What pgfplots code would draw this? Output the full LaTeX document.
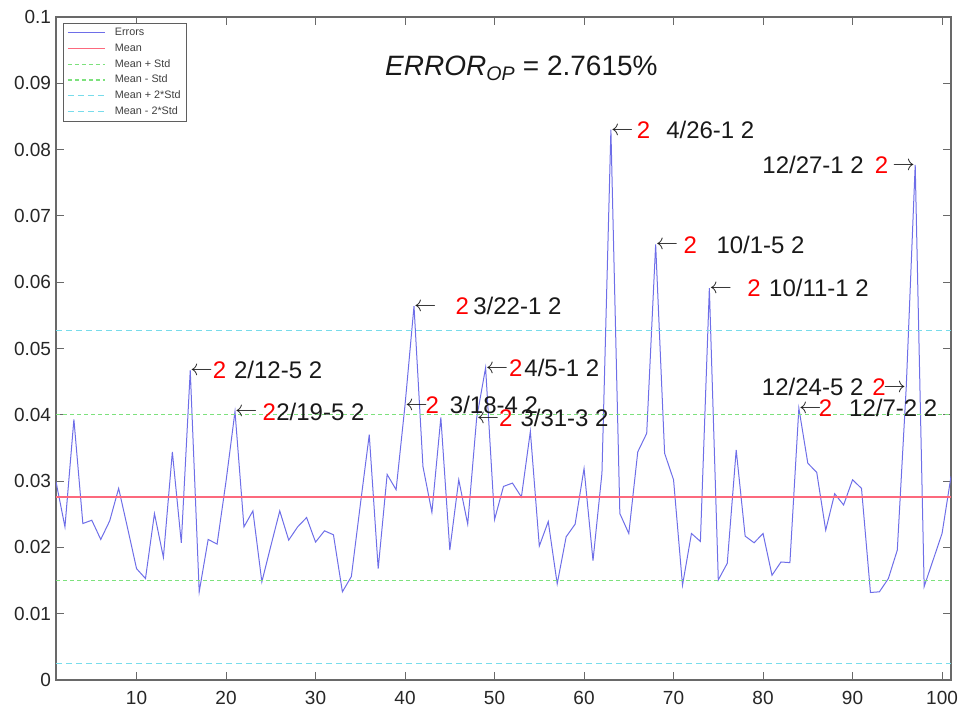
\documentclass[border=0pt]{standalone}
\usepackage{fontspec}
\setmainfont{Liberation Sans}
\newfontfamily\tickfont{Liberation Sans}
\usepackage{graphicx}
\usepackage{pgfplots}
\usepackage{pgfplotstable}
\pgfplotsset{compat=1.18}
\definecolor{errblue}{RGB}{110,110,232}
\definecolor{meanred}{RGB}{252,105,125}
\definecolor{stdgreen}{RGB}{125,225,125}
\definecolor{stdcyan}{RGB}{120,220,235}
\definecolor{framegray}{RGB}{105,105,105}
\definecolor{legendgray}{RGB}{95,95,95}
\newcommand{\la}{\raisebox{3.2bp}{\scalebox{0.9}{$\leftarrow$}}}
\newcommand{\ra}{\raisebox{3.2bp}{\scalebox{0.9}{$\rightarrow$}}}
\newcommand{\rt}[1]{\textcolor{red}{#1}}
\tikzset{lab/.style={font=\fontsize{24bp}{28bp}\selectfont, inner sep=0pt, yshift=-8.6bp, text=black!90}}
\pgfplotstableread{
x y
1 0.0299
2 0.0231
3 0.0393
4 0.0236
5 0.0241
6 0.0212
7 0.0240
8 0.0289
9 0.0229
10 0.0168
11 0.0153
12 0.0251
13 0.0185
14 0.0344
15 0.0207
16 0.0467
17 0.0133
18 0.0212
19 0.0205
20 0.0300
21 0.0405
22 0.0231
23 0.0255
24 0.0148
25 0.0202
26 0.0255
27 0.0211
28 0.0231
29 0.0245
30 0.0208
31 0.0225
32 0.0219
33 0.0133
34 0.0156
35 0.0264
36 0.0370
37 0.0168
38 0.0310
39 0.0287
40 0.0415
41 0.0564
42 0.0322
43 0.0253
44 0.0396
45 0.0196
46 0.0302
47 0.0235
48 0.0395
49 0.0471
50 0.0242
51 0.0292
52 0.0297
53 0.0276
54 0.0375
55 0.0202
56 0.0239
57 0.0145
58 0.0216
59 0.0235
60 0.0319
61 0.0180
62 0.0312
63 0.0830
64 0.0251
65 0.0221
66 0.0344
67 0.0372
68 0.0657
69 0.0342
70 0.0302
71 0.0143
72 0.0221
73 0.0209
74 0.0591
75 0.0151
76 0.0176
77 0.0347
78 0.0217
79 0.0207
80 0.0221
81 0.0158
82 0.0178
83 0.0177
84 0.0410
85 0.0327
86 0.0313
87 0.0226
88 0.0281
89 0.0264
90 0.0302
91 0.0289
92 0.0132
93 0.0133
94 0.0153
95 0.0196
96 0.0442
97 0.0777
98 0.0141
99 0.0181
100 0.0221
101 0.0307
}\errors
\begin{document}
\begin{tikzpicture}
\useasboundingbox (-56bp,-33bp) rectangle (905bp,680bp);
\begin{axis}[
  at={(0,0)}, anchor=south west,
  scale only axis, width=895bp, height=663bp,
  xmin=1, xmax=101, ymin=0, ymax=0.1,
  xtick={10,20,30,40,50,60,70,80,90,100},
  ytick={0,0.01,0.02,0.03,0.04,0.05,0.06,0.07,0.08,0.09,0.1},
  scaled y ticks=false,
  yticklabel style={/pgf/number format/fixed, /pgf/number format/precision=2, xshift=-1.5bp},
  /pgf/number format/assume math mode=true,
  ticklabel style={font=\tickfont\fontsize{19bp}{22bp}\selectfont, text=black!85},
  xticklabel style={yshift=-8bp},
  axis line style={draw=framegray, line width=1.1bp},
  major tick style={draw=framegray, line width=0.8bp},
  major tick length=8bp,
  tick align=inside,
  legend cell align=left,
  legend image code/.code={\draw[#1] (0bp,0bp) -- (37bp,0bp);},
  legend style={at={(axis description cs:0.0075,0.9914)}, anchor=north west,
    draw=legendgray, line width=1bp, fill=white,
    font=\fontsize{10.8bp}{12bp}\selectfont, text=black!75,
    inner xsep=4bp, inner ysep=3bp, row sep=2.2bp,
    nodes={inner sep=1.5bp, text height=8bp, text depth=2.5bp},
    /tikz/every odd column/.append style={column sep=8bp}},
]
\addplot[errblue, line width=1bp] table[x=x,y=y] {\errors};
\addlegendentry{Errors}
\addplot[meanred, line width=1.1bp] coordinates {(1,0.0276) (101,0.0276)};
\addlegendentry{Mean}
\addplot[stdgreen, line width=1.2bp, dash pattern=on 4bp off 3bp] coordinates {(1,0.0401) (101,0.0401)};
\addlegendentry{Mean + Std}
\addplot[stdgreen, line width=1.2bp, dash pattern=on 4bp off 3bp] coordinates {(1,0.0150) (101,0.0150)};
\addlegendentry{Mean - Std}
\addplot[stdcyan, line width=1.2bp, dash pattern=on 6bp off 4bp] coordinates {(1,0.0527) (101,0.0527)};
\addlegendentry{Mean + 2*Std}
\addplot[stdcyan, line width=1.2bp, dash pattern=on 6bp off 4bp] coordinates {(1,0.0025) (101,0.0025)};
\addlegendentry{Mean - 2*Std}

\node[lab, anchor=base west] at (axis cs:16,0.0467) {\la\rt{2}\hspace{8bp}2/12-5 2};
\node[lab, anchor=base west] at (axis cs:21,0.0405) {\la\hspace{5bp}\rt{2}\hspace{0.5bp}2/19-5 2};
\node[lab, anchor=base west] at (axis cs:41,0.0564) {\la\hspace{19bp}\rt{2}\hspace{4.5bp}3/22-1 2};
\node[lab, anchor=base west] at (axis cs:40,0.0415) {\la\hspace{-2bp}\rt{2}\hspace{11bp}3/18-4 2};
\node[lab, anchor=base west] at (axis cs:48,0.0395) {\la\rt{2}\hspace{8bp}3/31-3 2};
\node[lab, anchor=base west] at (axis cs:49,0.0471) {\la\hspace{1bp}\rt{2}\hspace{2bp}4/5-1 2};
\node[lab, anchor=base west] at (axis cs:63,0.0830) {\la\hspace{3.5bp}\rt{2}\hspace{16bp}4/26-1 2};
\node[lab, anchor=base west] at (axis cs:68,0.0657) {\la\hspace{5.5bp}\rt{2}\hspace{19.5bp}10/1-5 2};
\node[lab, anchor=base west] at (axis cs:74,0.0591) {\la\hspace{15.5bp}\rt{2}\hspace{8.5bp}10/11-1 2};
\node[lab, anchor=base west] at (axis cs:84,0.0410) {\la\hspace{-2.5bp}\rt{2}\hspace{17bp}12/7-2 2};
\node[lab, anchor=base east] at (axis cs:96,0.0442) {12/24-5 2\hspace{9bp}\rt{2}\hspace{-2bp}\ra};
\node[lab, anchor=base east] at (axis cs:97,0.0777) {12/27-1 2\hspace{11bp}\rt{2}\hspace{4.5bp}\ra};

\node[font=\fontsize{28bp}{32bp}\selectfont, anchor=base, inner sep=0pt, text=black!90]
  at (axis description cs:0.520,0.9125) {\textit{ERROR}\textsubscript{\textit{OP}} = 2.7615\%};
\end{axis}
\end{tikzpicture}
\end{document}
